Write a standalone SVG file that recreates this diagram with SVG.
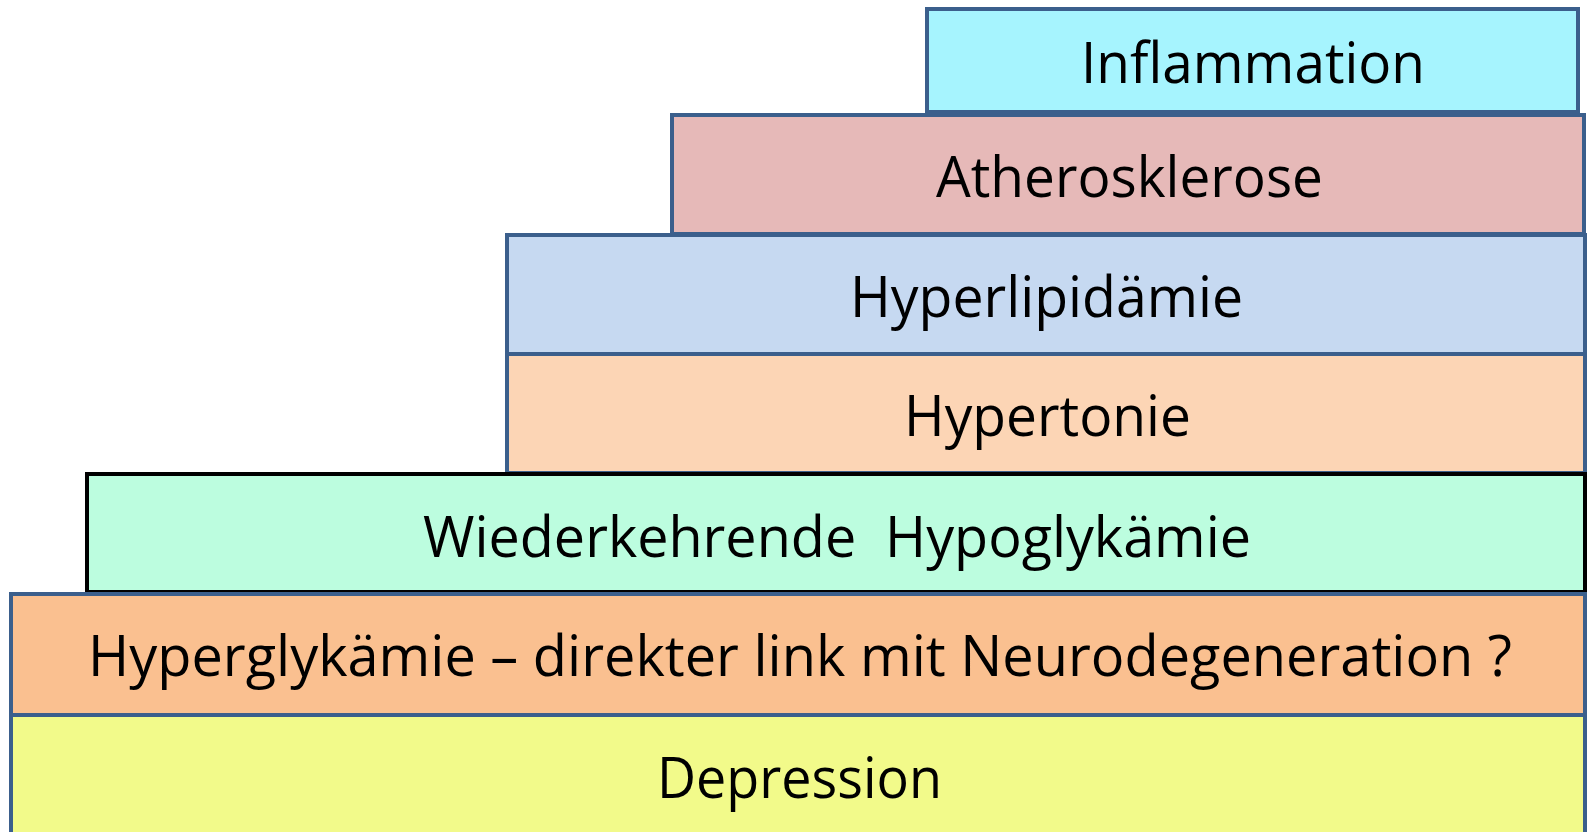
<svg xmlns="http://www.w3.org/2000/svg" width="1587" height="832" viewBox="0 0 1587 832">
<style>
.box{stroke:#3B5F8C;stroke-width:4}
.blk{stroke:#000;stroke-width:4}
.t{font-family:"Open Sans","Noto Sans",sans-serif;font-size:57px;fill:#000;white-space:pre}
</style>
<rect width="1587" height="832" fill="#fff"/>
<g id="inflammation"><rect class="box" x="927" y="9" width="651" height="103" fill="#A6F4FE"/><text class="t" x="1081" y="83" textLength="344" lengthAdjust="spacingAndGlyphs">Inflammation</text></g>
<g id="atherosklerose"><rect class="box" x="672" y="115" width="912" height="119" fill="#E6B9B8"/><text class="t" x="936" y="197" textLength="387" lengthAdjust="spacingAndGlyphs">Atherosklerose</text></g>
<g id="hyperlipidaemie"><rect class="box" x="507" y="235" width="1078" height="119" fill="#C6D9F1"/><text class="t" x="850" y="317" textLength="393" lengthAdjust="spacingAndGlyphs">Hyperlipidämie</text></g>
<g id="hypertonie"><rect class="box" x="507" y="354" width="1078" height="119" fill="#FCD5B5"/><text class="t" x="904" y="436" textLength="287" lengthAdjust="spacingAndGlyphs">Hypertonie</text></g>
<g id="hypoglykaemie"><rect class="blk" x="87" y="474" width="1498" height="118" fill="#BCFDDF"/><text class="t" x="423" y="557" textLength="828" lengthAdjust="spacingAndGlyphs">Wiederkehrende  Hypoglykämie</text></g>
<g id="hyperglykaemie"><rect class="box" x="11" y="594" width="1574" height="121" fill="#FAC090"/><text class="t" x="88" y="676" textLength="1424" lengthAdjust="spacingAndGlyphs">Hyperglykämie – direkter link mit Neurodegeneration ?</text></g>
<g id="depression"><rect class="box" x="11" y="715" width="1574" height="130" fill="#F2FA8A"/><text class="t" x="657" y="798" textLength="285" lengthAdjust="spacingAndGlyphs">Depression</text></g>
<g id="connectors"/>
</svg>
